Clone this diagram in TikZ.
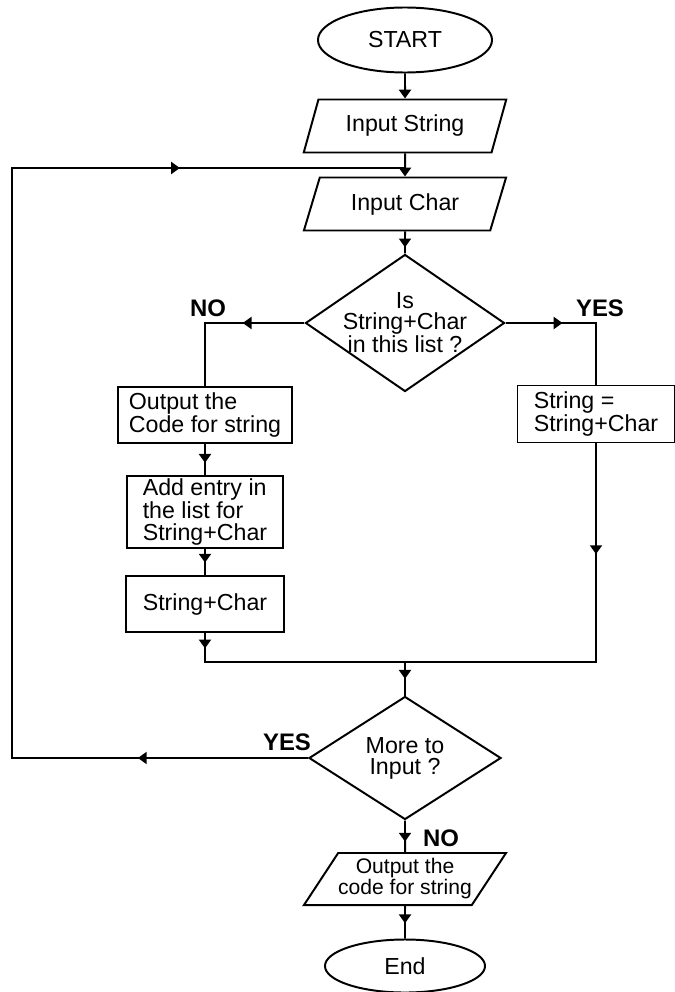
\documentclass[tikz,border=0pt]{standalone}
\usepackage{fontspec}
\setmainfont{Liberation Sans}
\usetikzlibrary{shapes.geometric,arrows.meta,decorations.markings}

\tikzset{
  box/.style={draw, rectangle, inner sep=2pt, align=left},
  io/.style={draw, trapezium, trapezium left angle=65, trapezium right angle=115,
    trapezium stretches=true, minimum width=5.075cm, minimum height=1.325cm,
    inner sep=0pt, align=center},
  term/.style={draw, ellipse},
  dec/.style={draw, diamond, aspect=1.45, inner sep=-0.25cm, align=center},
  lbl/.style={font=\fontsize{17}{15}\bfseries},
  arrowat/.style={postaction={decorate},
    decoration={markings, mark=at position #1 with {\arrow{>}}}},
}

\begin{document}
\begin{tikzpicture}[x=0.025cm, y=-0.025cm, line width=1.4pt,
    >={Triangle[length=0.22cm,width=0.3cm]},
    font=\fontsize{16.5}{15}\selectfont]
    \useasboundingbox (0,0) rectangle (675,992);
    % Main column
    \node[term, minimum width=4.35cm, minimum height=1.625cm] (start) at (405,40) {START};
    \node[io] (instr) at (405,126) {Input String};
    \node[io] (inchr) at (405,204) {Input Char};
    \node[dec, minimum width=4.975cm, minimum height=3.425cm] (dec1) at (405,323) {Is\\String+Char\\in this list ?};
    % NO branch
    \node[box, minimum width=4.35cm, minimum height=1.4cm] (outbox) at (205,415) {Output the\\Code for string};
    \node[box, minimum width=3.9cm, minimum height=1.475cm] (addbox) at (205,512) {Add entry in\\the list for\\String+Char};
    \node[box, minimum width=3.925cm, minimum height=1.4cm] (scbox) at (205,604) {String+Char};
    % YES branch
    \node[box, minimum width=3.925cm, minimum height=1.425cm] (eqbox) at (596,414) {String =\\String+Char};
    \coordinate (merge) at (405,662);
    % Second test
    \node[dec, minimum width=4.8cm, minimum height=3.075cm] (dec2) at (405,758) {More to\\Input ?};
    \node[io, trapezium left angle=50, trapezium right angle=130, minimum width=5cm,
      minimum height=1.3cm, font=\fontsize{15}{13.5}\selectfont] (outcode) at (405,879) {Output the\\code for string};
    \node[term, minimum width=4cm, minimum height=1.325cm] (stop) at (405,966) {End};
    % Labels
    \node[lbl] (no1) at (208,308) {NO};
    \node[lbl] (yes1) at (600,308) {YES};
    \node[lbl] (yes2) at (287,742) {YES};
    \node[lbl] (no2) at (441,838) {NO};
    % Connectors
    \coordinate (loopin) at (405,168);
    \coordinate (corner) at (12,168);
    \draw[->] (start) -- (instr);
    \draw[->] (instr) -- (inchr);
    \draw[arrowat=0.72] (inchr) -- (dec1);
    \draw[arrowat=0.38] (dec1.west) -| (outbox.north);
    \draw[arrowat=0.375] (dec1.east) -| (eqbox.north);
    \draw[arrowat=0.6] (outbox) -- (addbox);
    \draw[arrowat=0.53] (addbox) -- (scbox);
    \draw[arrowat=0.067] (scbox.south) |- (merge);
    \draw[arrowat=0.27] (eqbox.south) |- (merge);
    \draw[arrowat=0.5] (merge) -- (dec2);
    \draw[postaction={decorate}, decoration={markings,
        mark=at position 0.133 with {\arrow{>}},
        mark=at position 0.824 with {\arrow{>}}}]
      (dec2.west) -| (corner) -- (loopin);
    \draw[arrowat=0.67] (dec2) -- (outcode);
    \draw[arrowat=0.53] (outcode) -- (stop);
\end{tikzpicture}
\end{document}
